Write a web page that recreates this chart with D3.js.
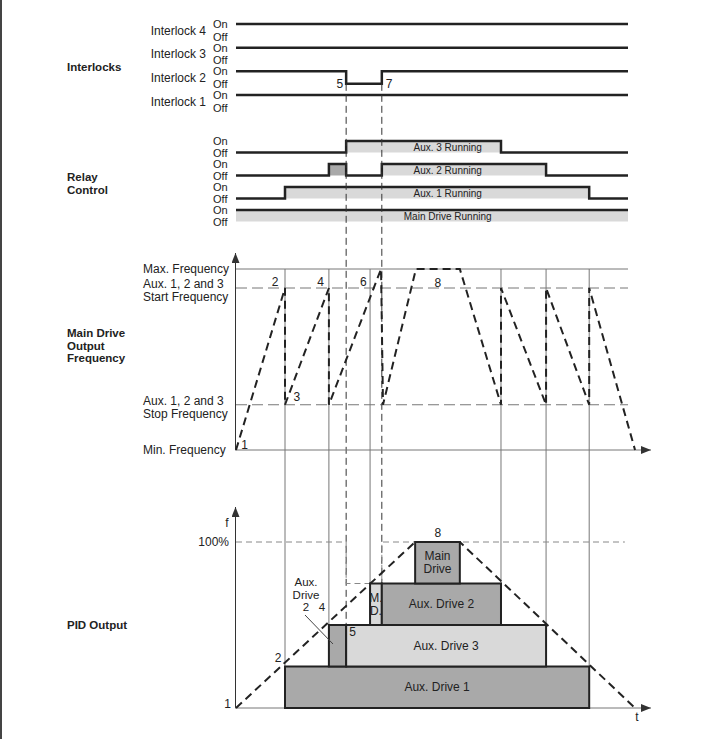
<!DOCTYPE html>
<html>
<head>
<meta charset="utf-8">
<title>Multi-drive control timing</title>
<script src="https://d3js.org/d3.v7.min.js"></script>
<style>
  body { margin: 0; background: #fff; }
  svg { display: block; font-family: "Liberation Sans", Arial, sans-serif; fill: #222; }
  .section { font-weight: bold; font-size: 11.5px; }
  .lbl { font-size: 12px; }
  .onoff { font-size: 11px; }
  .small { font-size: 10px; }
  .note { font-size: 11.5px; }
</style>
</head>
<body>
<svg id="chart" width="719" height="739"></svg>
<script>
// time runs 0..100 across the trace area
var interlockRows = ["Interlock 4", "Interlock 3", "Interlock 2", "Interlock 1"];
var interlockStates = [
  [[0, 1], [100, 1]],
  [[0, 1], [100, 1]],
  [[0, 1], [28.1, 0], [37.2, 1], [100, 1]],
  [[0, 1], [100, 1]]
];

var relayRows = ["Aux. 3", "Aux. 2", "Aux. 1", "Main Drive"];
var relayLabels = ["Aux. 3 Running", "Aux. 2 Running", "Aux. 1 Running", "Main Drive Running"];
// 2 = short start before the interlock trip
var relayStates = [
  [[0, 0], [28.1, 1], [67.6, 0], [100, 0]],
  [[0, 0], [23.7, 2], [28.1, 0], [37.2, 1], [79.1, 0], [100, 0]],
  [[0, 0], [12.5, 1], [90.1, 0], [100, 0]],
  [[0, 1], [100, 1]]
];

// main drive output frequency, % of max
var freqLevels = [100, 89.5, 25, 0];
var freqLevelLabels = [["Max. Frequency"], ["Aux. 1, 2 and 3", "Start Frequency"],
                       ["Aux. 1, 2 and 3", "Stop Frequency"], ["Min. Frequency"]];
var freqT = [0, 12.5, 12.5, 23.7, 23.7, 37.0, 37.5, 45.9, 57.1, 67.6, 67.6, 79.1, 79.1, 90.1, 90.1, 101.8];
var freqV = [0, 89.5, 25, 89.5, 25, 100, 25, 100, 100, 25, 89.5, 25, 89.5, 25, 89.5, 0];
var freqNotes = [["1", 2.2, 2.8], ["2", 10, 93], ["3", 15.5, 29.4], ["4", 21.6, 93], ["6", 32.5, 93], ["8", 51.5, 92]];

// event times
var eventT = [28.1, 37.2];        // interlock 2 off / on (5, 7)
var eventEndLevel = [50, 75];
var guideT = [12.5, 23.7, 34.2, 67.6, 79.1, 90.1];

// PID output, %
var pidT = [0, 45.7, 57.1, 101.8];
var pidV = [0, 100, 100, 0];
var capT = [0, 28.1, 28.1, 37.2, 37.2, 99.2];
var capV = [100, 100, 75, 75, 100, 100];
var blockNames = ["Aux. Drive 1", "", "Aux. Drive 3", "M.|D.", "Aux. Drive 2", "Main|Drive"];
var blockStart = [12.5, 23.7, 28.1, 34.2, 37.2, 45.7];
var blockEnd = [90.1, 28.1, 79.1, 37.2, 67.6, 57.1];
var blockLow = [0, 25, 25, 50, 50, 75];
var blockHigh = [25, 50, 50, 75, 75, 100];
var blockDark = [true, true, false, false, true, true];

var svg = d3.select("#chart");
var x = d3.scaleLinear().domain([0, 100]).range([236, 628]);
var yInter = d3.scalePoint().domain(interlockRows).range([24, 95]);
var yRelay = d3.scalePoint().domain(relayRows).range([141, 210]);
var yFreq = d3.scaleLinear().domain([0, 100]).range([450, 269]);
var yPid = d3.scaleLinear().domain([0, 100]).range([708, 542]);
var interOff = 12.5, relayOff = 11.5;
var dark = "#a9a9a9", light = "#d9d9d9", ink = "#222";

svg.append("defs").append("marker")
  .attr("id", "arrow").attr("viewBox", "0 0 10 8")
  .attr("refX", 10).attr("refY", 4)
  .attr("markerWidth", 10).attr("markerHeight", 8)
  .attr("markerUnits", "userSpaceOnUse").attr("orient", "auto")
  .append("path").attr("d", "M0,0L10,4L0,8z").attr("fill", "#333");

// left frame edge
svg.append("line").attr("x1", 1).attr("x2", 1).attr("y1", 0).attr("y2", 739)
  .attr("stroke", "#444").attr("stroke-width", 2);

// section titles
var sections = [["Interlocks"], ["Relay", "Control"], ["Main Drive", "Output", "Frequency"], ["PID Output"]];
var sectionY = [71, 181, 337, 629];
sections.forEach(function (lines, i) {
  var t = svg.append("text").attr("class", "section").attr("x", 67).attr("y", sectionY[i]);
  lines.forEach(function (s, j) {
    t.append("tspan").attr("x", 67).attr("dy", j ? 12.5 : 0).text(s);
  });
});

function onOff(y, off) {
  svg.append("text").attr("class", "onoff").attr("x", 213).attr("y", y + 4).text("On");
  svg.append("text").attr("class", "onoff").attr("x", 213).attr("y", y + off + 4).text("Off");
}

// interlocks
interlockRows.forEach(function (r, i) {
  var y0 = yInter(r);
  svg.append("text").attr("class", "lbl").attr("x", 206).attr("y", y0 + 10.5)
    .attr("text-anchor", "end").text(r);
  onOff(y0, interOff);
  var line = d3.line().curve(d3.curveStepAfter)
    .x(function (d) { return x(d[0]); })
    .y(function (d) { return d[1] ? y0 : y0 + interOff; });
  svg.append("path").attr("d", line(interlockStates[i]))
    .attr("fill", "none").attr("stroke", ink).attr("stroke-width", 2.5);
});
var offY = yInter("Interlock 2") + interOff;
svg.append("text").attr("class", "lbl").attr("x", x(eventT[0]) - 3).attr("y", offY + 4)
  .attr("text-anchor", "end").text("5");
svg.append("text").attr("class", "lbl").attr("x", x(eventT[1]) + 4).attr("y", offY + 4).text("7");

// relays
relayRows.forEach(function (r, i) {
  var y0 = yRelay(r);
  var st = relayStates[i];
  onOff(y0, relayOff);
  for (var k = 0; k < st.length - 1; k++) {
    if (st[k][1] > 0) {
      svg.append("rect").attr("x", x(st[k][0])).attr("y", y0)
        .attr("width", x(st[k + 1][0]) - x(st[k][0])).attr("height", relayOff)
        .attr("fill", st[k][1] === 2 ? dark : light);
    }
  }
  svg.append("text").attr("class", "small").attr("x", x(54)).attr("y", y0 + relayOff / 2 + 4)
    .attr("text-anchor", "middle").text(relayLabels[i]);
  var line = d3.line().curve(d3.curveStepAfter)
    .x(function (d) { return x(d[0]); })
    .y(function (d) { return d[1] ? y0 : y0 + relayOff; });
  svg.append("path").attr("d", line(st))
    .attr("fill", "none").attr("stroke", ink).attr("stroke-width", 2.5);
});

// frequency reference levels
freqLevels.forEach(function (v, i) {
  var y0 = yFreq(v);
  var lines = freqLevelLabels[i];
  var t = svg.append("text").attr("class", "lbl").attr("x", 143)
    .attr("y", lines.length > 1 ? y0 : y0 + 4);
  lines.forEach(function (s, j) {
    t.append("tspan").attr("x", 143).attr("dy", j ? 13 : 0).text(s);
  });
  if (v > 0) {
    svg.append("line").attr("x1", x(0)).attr("x2", x(100)).attr("y1", y0).attr("y2", y0)
      .attr("stroke", "#777").attr("stroke-width", 1)
      .attr("stroke-dasharray", v === 100 ? null : "11,5");
  }
});

// solid guides
guideT.forEach(function (t) {
  svg.append("line").attr("x1", x(t)).attr("x2", x(t)).attr("y1", yFreq(100)).attr("y2", yPid(0))
    .attr("stroke", "#777").attr("stroke-width", 1);
});

// event dashed lines
eventT.forEach(function (t, i) {
  svg.append("line").attr("x1", x(t)).attr("x2", x(t)).attr("y1", offY).attr("y2", yPid(eventEndLevel[i]))
    .attr("stroke", "#333").attr("stroke-width", 1).attr("stroke-dasharray", "7,4");
});

// frequency axes
svg.append("line").attr("x1", x(0) - 0.5).attr("x2", x(0) - 0.5).attr("y1", yFreq(0)).attr("y2", 253)
  .attr("stroke", "#333").attr("marker-end", "url(#arrow)");
svg.append("line").attr("x1", x(0) - 1).attr("x2", 651).attr("y1", yFreq(0)).attr("y2", yFreq(0))
  .attr("stroke", "#777").attr("marker-end", "url(#arrow)");

var freqLine = d3.line().x(function (d, i) { return x(freqT[i]); }).y(function (d) { return yFreq(d); });
svg.append("path").attr("d", freqLine(freqV)).attr("fill", "none")
  .attr("stroke", ink).attr("stroke-width", 2).attr("stroke-dasharray", "8,5");
freqNotes.forEach(function (n) {
  svg.append("text").attr("class", "lbl").attr("x", x(n[1])).attr("y", yFreq(n[2]) + 4)
    .attr("text-anchor", "middle").text(n[0]);
});

// PID section
svg.append("line").attr("x1", x(0) - 0.5).attr("x2", x(0) - 0.5).attr("y1", yPid(0)).attr("y2", 507)
  .attr("stroke", "#333").attr("marker-end", "url(#arrow)");
svg.append("line").attr("x1", x(0) - 1).attr("x2", 651).attr("y1", yPid(0)).attr("y2", yPid(0))
  .attr("stroke", "#777").attr("marker-end", "url(#arrow)");
svg.append("text").attr("class", "lbl").attr("x", 227).attr("y", 527).attr("text-anchor", "middle").text("f");
svg.append("text").attr("class", "lbl").attr("x", 637).attr("y", 721).attr("text-anchor", "middle").text("t");
svg.append("text").attr("class", "lbl").attr("x", 229).attr("y", yPid(100) + 4).attr("text-anchor", "end").text("100%");

var capLine = d3.line().x(function (d, i) { return x(capT[i]); }).y(function (d) { return yPid(d); });
svg.append("path").attr("d", capLine(capV)).attr("fill", "none")
  .attr("stroke", "#888").attr("stroke-width", 1).attr("stroke-dasharray", "6,4");

blockNames.forEach(function (name, i) {
  var x0 = x(blockStart[i]), x1 = x(blockEnd[i]);
  var y0 = yPid(blockHigh[i]), y1 = yPid(blockLow[i]);
  svg.append("rect").attr("x", x0).attr("y", y0).attr("width", x1 - x0).attr("height", y1 - y0)
    .attr("fill", blockDark[i] ? dark : light).attr("stroke", ink).attr("stroke-width", 2);
  if (name) {
    var parts = name.split("|");
    var t = svg.append("text").attr("class", "lbl").attr("text-anchor", "middle")
      .attr("font-size", parts[0].length < 4 ? "10.5px" : null)
      .attr("y", (y0 + y1) / 2 + 4 - (parts.length - 1) * 6.5);
    parts.forEach(function (s, j) {
      t.append("tspan").attr("x", (x0 + x1) / 2).attr("dy", j ? 13 : 0).text(s);
    });
  }
});

var pidLine = d3.line().x(function (d, i) { return x(pidT[i]); }).y(function (d) { return yPid(d); });
svg.append("path").attr("d", pidLine(pidV)).attr("fill", "none")
  .attr("stroke", ink).attr("stroke-width", 2).attr("stroke-dasharray", "8,5");

// PID notes
svg.append("text").attr("class", "lbl").attr("x", 231).attr("y", yPid(0)).attr("text-anchor", "end").text("1");
svg.append("text").attr("class", "lbl").attr("x", 278).attr("y", 662).attr("text-anchor", "middle").text("2");
svg.append("text").attr("class", "lbl").attr("x", x(28.1) + 3).attr("y", 636).text("5");
svg.append("text").attr("class", "lbl").attr("x", x(51.5)).attr("y", 537).attr("text-anchor", "middle").text("8");
var aux = svg.append("text").attr("class", "note").attr("text-anchor", "middle").attr("y", 586);
["Aux.", "Drive", "2"].forEach(function (s, j) {
  aux.append("tspan").attr("x", 306).attr("dy", j ? 12.5 : 0).text(s);
});
svg.append("text").attr("class", "note").attr("x", 322).attr("y", 611).attr("text-anchor", "middle").text("4");
svg.append("line").attr("x1", 305).attr("y1", 615).attr("x2", 333).attr("y2", 644)
  .attr("stroke", "#444").attr("stroke-width", 1);
</script>
</body>
</html>
